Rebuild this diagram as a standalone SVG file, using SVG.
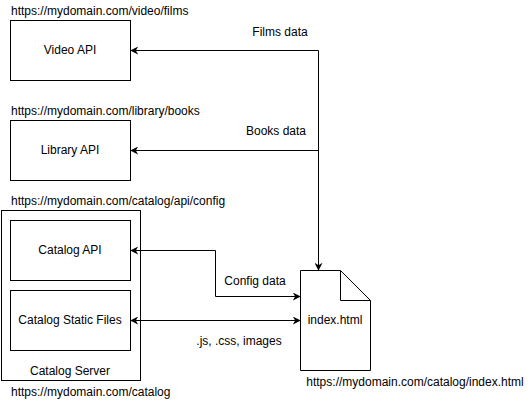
<svg xmlns="http://www.w3.org/2000/svg" width="531" height="401" viewBox="0 0 531 401">
<style>
.box{fill:#fff;stroke:#000;stroke-width:1}
.t{font-family:"Liberation Sans",Arial,sans-serif;font-size:12px;fill:#000}
.c{text-anchor:middle}
.line{fill:none;stroke:#000;stroke-width:1}
</style>
<defs>
<marker id="arr" viewBox="0 0 10 10" refX="9" refY="5" markerWidth="8" markerHeight="8" markerUnits="userSpaceOnUse" orient="auto-start-reverse">
<path d="M0,0 L10,5 L0,10 L3,5 z" fill="#000"/>
</marker>
</defs>
<rect width="531" height="401" fill="#fff"/>
<g id="server">
<rect class="box" x="1.5" y="210.5" width="139" height="170"/>
<text class="t c" x="70" y="375">Catalog Server</text>
</g>
<g id="video">
<rect class="box" x="10.5" y="20.5" width="120" height="60"/>
<text class="t c" x="70" y="54">Video API</text>
</g>
<g id="library">
<rect class="box" x="10.5" y="120.5" width="120" height="60"/>
<text class="t c" x="70" y="154">Library API</text>
</g>
<g id="catalogapi">
<rect class="box" x="10.5" y="220.5" width="120" height="60"/>
<text class="t c" x="70" y="254">Catalog API</text>
</g>
<g id="static">
<rect class="box" x="10.5" y="290.5" width="120" height="60"/>
<text class="t c" x="70" y="324">Catalog Static Files</text>
</g>
<g id="index">
<path class="box" d="M300.5,270.5 H340.5 L370.5,300.5 V370.5 H300.5 Z"/>
<path class="line" d="M340.5,270.5 V300.5 H370.5"/>
<text class="t c" x="335" y="324">index.html</text>
</g>
<g id="labels">
<text class="t" x="11" y="15">https://mydomain.com/video/films</text>
<text class="t" x="11" y="115">https://mydomain.com/library/books</text>
<text class="t" x="11" y="205">https://mydomain.com/catalog/api/config</text>
<text class="t" x="11" y="396">https://mydomain.com/catalog</text>
<text class="t c" x="415" y="386">https://mydomain.com/catalog/index.html</text>
</g>
<g id="connectors">
<path class="line" d="M318.5,50.5 H131" marker-end="url(#arr)"/>
<path class="line" d="M318.5,150.5 H131" marker-end="url(#arr)"/>
<path class="line" d="M318.5,50.5 V270" marker-end="url(#arr)"/>
<path class="line" d="M131,250.5 H215.5 V296.5 H300" marker-start="url(#arr)" marker-end="url(#arr)"/>
<path class="line" d="M131,320.5 H300" marker-start="url(#arr)" marker-end="url(#arr)"/>
<text class="t c" x="280" y="36">Films data</text>
<text class="t c" x="276" y="135">Books data</text>
<text class="t c" x="255" y="285">Config data</text>
<text class="t c" x="239" y="345">.js, .css, images</text>
</g>
</svg>
